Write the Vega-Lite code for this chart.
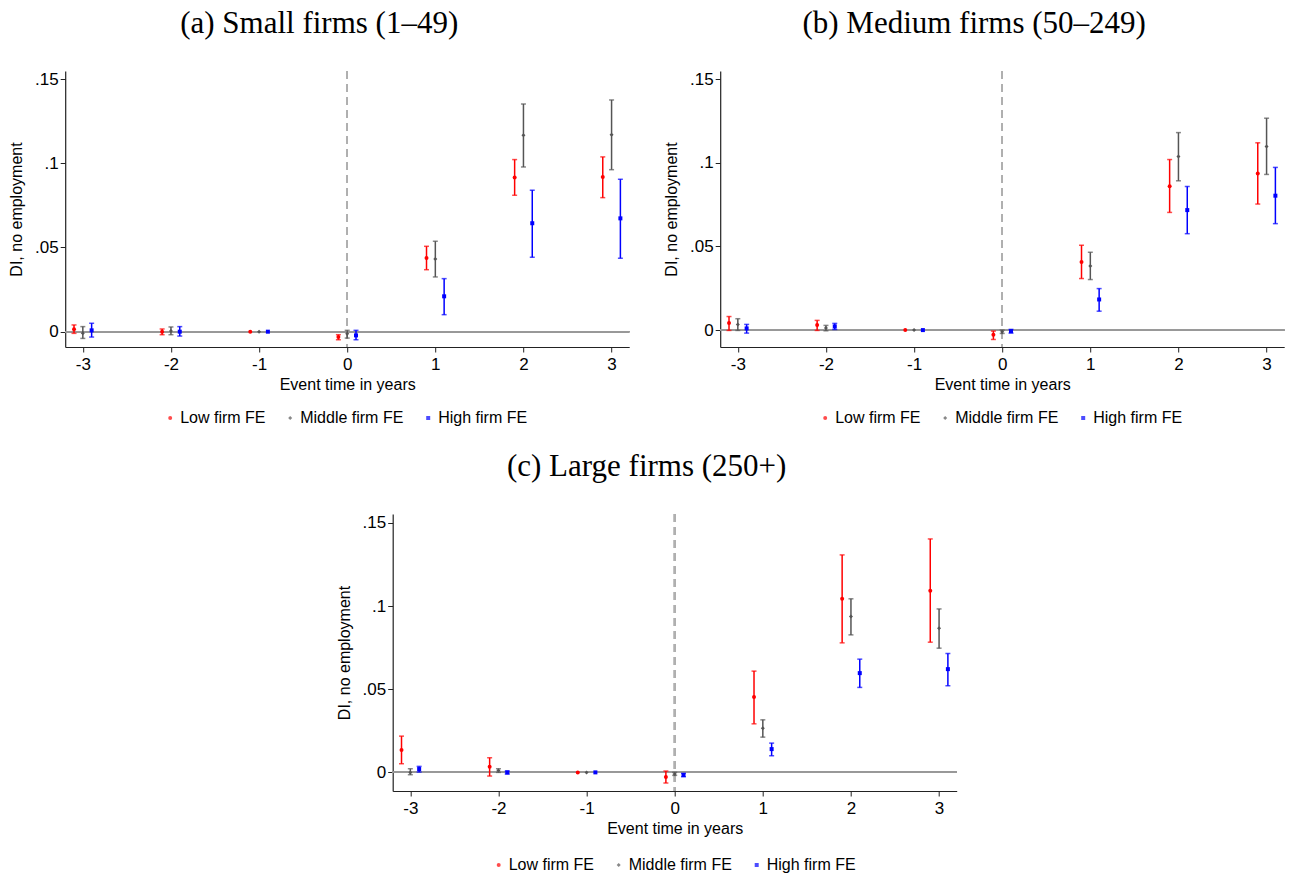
{
  "$schema": "https://vega.github.io/schema/vega-lite/v6.json",
  "padding": {"left": 8, "top": 8, "right": 0, "bottom": 0},
  "background": "white",
  "datasets": {
    "small": [
      {"x": -3.1, "group": "Low firm FE", "est": 0.0015, "lo": -0.001, "hi": 0.004},
      {"x": -3.0, "group": "Middle firm FE", "est": -0.001, "lo": -0.004, "hi": 0.003},
      {"x": -2.9, "group": "High firm FE", "est": 0.0008, "lo": -0.0032, "hi": 0.005},
      {"x": -2.1, "group": "Low firm FE", "est": 0.0, "lo": -0.0018, "hi": 0.0016},
      {"x": -2.0, "group": "Middle firm FE", "est": 0.0004, "lo": -0.0018, "hi": 0.0028},
      {"x": -1.9, "group": "High firm FE", "est": 0.0, "lo": -0.0026, "hi": 0.003},
      {"x": -1.1, "group": "Low firm FE", "est": 0.0, "lo": null, "hi": null},
      {"x": -1.0, "group": "Middle firm FE", "est": 0.0, "lo": null, "hi": null},
      {"x": -0.9, "group": "High firm FE", "est": 0.0, "lo": null, "hi": null},
      {"x": -0.1, "group": "Low firm FE", "est": -0.0032, "lo": -0.0048, "hi": -0.0018},
      {"x": 0.0, "group": "Middle firm FE", "est": -0.0012, "lo": -0.0038, "hi": 0.0008},
      {"x": 0.1, "group": "High firm FE", "est": -0.0022, "lo": -0.0048, "hi": 0.0008},
      {"x": 0.9, "group": "Low firm FE", "est": 0.0438, "lo": 0.0368, "hi": 0.0507},
      {"x": 1.0, "group": "Middle firm FE", "est": 0.0432, "lo": 0.0325, "hi": 0.0537},
      {"x": 1.1, "group": "High firm FE", "est": 0.021, "lo": 0.0101, "hi": 0.0315},
      {"x": 1.9, "group": "Low firm FE", "est": 0.0915, "lo": 0.081, "hi": 0.1022},
      {"x": 2.0, "group": "Middle firm FE", "est": 0.1166, "lo": 0.0978, "hi": 0.1352},
      {"x": 2.1, "group": "High firm FE", "est": 0.0644, "lo": 0.0442, "hi": 0.084},
      {"x": 2.9, "group": "Low firm FE", "est": 0.0919, "lo": 0.0796, "hi": 0.1038},
      {"x": 3.0, "group": "Middle firm FE", "est": 0.117, "lo": 0.0962, "hi": 0.1376},
      {"x": 3.1, "group": "High firm FE", "est": 0.0673, "lo": 0.0436, "hi": 0.0905}
    ],
    "medium": [
      {"x": -3.1, "group": "Low firm FE", "est": 0.0042, "lo": -0.0002, "hi": 0.0081},
      {"x": -3.0, "group": "Middle firm FE", "est": 0.0034, "lo": -0.0002, "hi": 0.0068},
      {"x": -2.9, "group": "High firm FE", "est": 0.001, "lo": -0.0018, "hi": 0.0034},
      {"x": -2.1, "group": "Low firm FE", "est": 0.003, "lo": -0.0002, "hi": 0.0058},
      {"x": -2.0, "group": "Middle firm FE", "est": 0.0012, "lo": -0.0004, "hi": 0.0028},
      {"x": -1.9, "group": "High firm FE", "est": 0.0022, "lo": 0.0004, "hi": 0.004},
      {"x": -1.1, "group": "Low firm FE", "est": 0.0, "lo": null, "hi": null},
      {"x": -1.0, "group": "Middle firm FE", "est": 0.0, "lo": null, "hi": null},
      {"x": -0.9, "group": "High firm FE", "est": 0.0, "lo": null, "hi": null},
      {"x": -0.1, "group": "Low firm FE", "est": -0.0028, "lo": -0.0056, "hi": -0.0006},
      {"x": 0.0, "group": "Middle firm FE", "est": -0.001, "lo": -0.002, "hi": 0.0},
      {"x": 0.1, "group": "High firm FE", "est": -0.0006, "lo": -0.0018, "hi": 0.0004},
      {"x": 0.9, "group": "Low firm FE", "est": 0.0407, "lo": 0.0308, "hi": 0.0507},
      {"x": 1.0, "group": "Middle firm FE", "est": 0.0383, "lo": 0.0302, "hi": 0.0465},
      {"x": 1.1, "group": "High firm FE", "est": 0.0183, "lo": 0.0113, "hi": 0.0248},
      {"x": 1.9, "group": "Low firm FE", "est": 0.086, "lo": 0.0703, "hi": 0.1019},
      {"x": 2.0, "group": "Middle firm FE", "est": 0.1037, "lo": 0.0892, "hi": 0.118},
      {"x": 2.1, "group": "High firm FE", "est": 0.0717, "lo": 0.0576, "hi": 0.0858},
      {"x": 2.9, "group": "Low firm FE", "est": 0.0936, "lo": 0.0753, "hi": 0.1119},
      {"x": 3.0, "group": "Middle firm FE", "est": 0.1097, "lo": 0.093, "hi": 0.1266},
      {"x": 3.1, "group": "High firm FE", "est": 0.0803, "lo": 0.0636, "hi": 0.0972}
    ],
    "large": [
      {"x": -3.1, "group": "Low firm FE", "est": 0.0134, "lo": 0.0052, "hi": 0.0218},
      {"x": -3.0, "group": "Middle firm FE", "est": 0.0, "lo": -0.0014, "hi": 0.0022},
      {"x": -2.9, "group": "High firm FE", "est": 0.002, "lo": 0.0002, "hi": 0.0036},
      {"x": -2.1, "group": "Low firm FE", "est": 0.0034, "lo": -0.0022, "hi": 0.0088},
      {"x": -2.0, "group": "Middle firm FE", "est": 0.0012, "lo": 0.0, "hi": 0.0022},
      {"x": -1.9, "group": "High firm FE", "est": 0.0, "lo": -0.001, "hi": 0.0008},
      {"x": -1.1, "group": "Low firm FE", "est": 0.0, "lo": null, "hi": null},
      {"x": -1.0, "group": "Middle firm FE", "est": 0.0, "lo": null, "hi": null},
      {"x": -0.9, "group": "High firm FE", "est": 0.0, "lo": null, "hi": null},
      {"x": -0.1, "group": "Low firm FE", "est": -0.0028, "lo": -0.0064, "hi": 0.0008},
      {"x": 0.0, "group": "Middle firm FE", "est": -0.001, "lo": -0.0018, "hi": 0.0},
      {"x": 0.1, "group": "High firm FE", "est": -0.0016, "lo": -0.0026, "hi": -0.0006},
      {"x": 0.9, "group": "Low firm FE", "est": 0.0453, "lo": 0.0292, "hi": 0.0609},
      {"x": 1.0, "group": "Middle firm FE", "est": 0.0266, "lo": 0.0212, "hi": 0.0316},
      {"x": 1.1, "group": "High firm FE", "est": 0.014, "lo": 0.01, "hi": 0.0176},
      {"x": 1.9, "group": "Low firm FE", "est": 0.1044, "lo": 0.0779, "hi": 0.1308},
      {"x": 2.0, "group": "Middle firm FE", "est": 0.0937, "lo": 0.0827, "hi": 0.1044},
      {"x": 2.1, "group": "High firm FE", "est": 0.0597, "lo": 0.0511, "hi": 0.0681},
      {"x": 2.9, "group": "Low firm FE", "est": 0.1092, "lo": 0.0783, "hi": 0.1404},
      {"x": 3.0, "group": "Middle firm FE", "est": 0.0867, "lo": 0.0747, "hi": 0.0983},
      {"x": 3.1, "group": "High firm FE", "est": 0.0621, "lo": 0.0521, "hi": 0.0715}
    ]
  },
  "config": {
    "view": {"stroke": null},
    "font": "Liberation Sans",
    "axis": {
      "labelFont": "Liberation Sans", "labelFontSize": 17, "labelColor": "#000",
      "titleFont": "Liberation Sans", "titleFontSize": 16, "titleFontWeight": "normal", "titleColor": "#000",
      "domainColor": "#222", "domainWidth": 1.2, "tickColor": "#222", "tickSize": 5, "tickWidth": 1,
      "gridColor": "#e8e8e8", "gridDash": [6, 5], "gridWidth": 1
    },
    "title": {"font": "Liberation Serif", "fontSize": 31, "fontWeight": "normal", "color": "#000", "offset": 30, "frame": "bounds", "anchor": "middle"},
    "legend": {
      "direction": "horizontal", "labelFont": "Liberation Sans", "labelFontSize": 16,
      "labelColor": "#000", "columnPadding": 16, "labelOffset": 2, "symbolStrokeWidth": 0
    }
  },
  "vconcat": [
    {
      "hconcat": [
        {
          "title": "(a) Small firms (1–49)",
          "width": 564, "height": 276,
          "data": {"name": "small"},
          "layer": [
            {"mark": {"type": "rule", "color": "#999", "strokeWidth": 1.2}, "encoding": {"y": {"datum": 0}}},
            {"mark": {"type": "rule", "color": "#b0b0b0", "strokeWidth": 1.5, "strokeDash": [8, 5]}, "encoding": {"x": {"datum": 0}}},
            {"mark": {"type": "rule", "strokeWidth": 1.5},
             "encoding": {"x": {"field": "x", "type": "quantitative"}, "y": {"field": "lo", "type": "quantitative"}, "y2": {"field": "hi"},
               "color": {"field": "group", "type": "nominal"}}},
            {"mark": {"type": "tick", "orient": "horizontal", "size": 5, "thickness": 1.5},
             "encoding": {"x": {"field": "x", "type": "quantitative"}, "y": {"field": "lo", "type": "quantitative"},
               "color": {"field": "group", "type": "nominal"}}},
            {"mark": {"type": "tick", "orient": "horizontal", "size": 5, "thickness": 1.5},
             "encoding": {"x": {"field": "x", "type": "quantitative"}, "y": {"field": "hi", "type": "quantitative"},
               "color": {"field": "group", "type": "nominal"}}},
            {"mark": {"type": "point", "filled": true, "opacity": 1},
             "encoding": {
               "x": {"field": "x", "type": "quantitative", "scale": {"domain": [-3.2, 3.2], "nice": false, "zero": false},
                 "axis": {"values": [-3, -2, -1, 0, 1, 2, 3], "title": "Event time in years", "labelPadding": 4, "titlePadding": 4, "labelExpr": "'' + datum.value"}},
               "y": {"field": "est", "type": "quantitative", "scale": {"domain": [-0.0091, 0.1548], "nice": false, "zero": false},
                 "axis": {"values": [0, 0.05, 0.1, 0.15], "title": "DI, no employment", "labelPadding": 2, "titlePadding": 10,
                   "labelExpr": "datum.value == 0 ? '0' : slice(format(datum.value, '.2~f'), 1)"}},
               "color": {"field": "group", "type": "nominal", "title": null,
                 "legend": {"orient": "none", "legendX": 97, "legendY": 339, "direction": "horizontal"},
                 "scale": {"domain": ["Low firm FE", "Middle firm FE", "High firm FE"], "range": ["#ff0000", "#555555", "#0000ff"]}},
               "shape": {"field": "group", "type": "nominal", "title": null,
                 "legend": {"orient": "none", "legendX": 97, "legendY": 339, "direction": "horizontal"},
                 "scale": {"domain": ["Low firm FE", "Middle firm FE", "High firm FE"], "range": ["circle", "diamond", "square"]}},
               "size": {"field": "group", "type": "nominal", "title": null,
                 "legend": {"orient": "none", "legendX": 97, "legendY": 339, "direction": "horizontal"},
                 "scale": {"domain": ["Low firm FE", "Middle firm FE", "High firm FE"], "range": [16, 16, 28]}}
             }}
          ]
        },
        {
          "title": "(b) Medium firms (50–249)",
          "width": 564, "height": 276,
          "data": {"name": "medium"},
          "layer": [
            {"mark": {"type": "rule", "color": "#999", "strokeWidth": 1.2}, "encoding": {"y": {"datum": 0}}},
            {"mark": {"type": "rule", "color": "#b0b0b0", "strokeWidth": 1.5, "strokeDash": [8, 5]}, "encoding": {"x": {"datum": 0}}},
            {"mark": {"type": "rule", "strokeWidth": 1.5},
             "encoding": {"x": {"field": "x", "type": "quantitative"}, "y": {"field": "lo", "type": "quantitative"}, "y2": {"field": "hi"},
               "color": {"field": "group", "type": "nominal"}}},
            {"mark": {"type": "tick", "orient": "horizontal", "size": 5, "thickness": 1.5},
             "encoding": {"x": {"field": "x", "type": "quantitative"}, "y": {"field": "lo", "type": "quantitative"},
               "color": {"field": "group", "type": "nominal"}}},
            {"mark": {"type": "tick", "orient": "horizontal", "size": 5, "thickness": 1.5},
             "encoding": {"x": {"field": "x", "type": "quantitative"}, "y": {"field": "hi", "type": "quantitative"},
               "color": {"field": "group", "type": "nominal"}}},
            {"mark": {"type": "point", "filled": true, "opacity": 1},
             "encoding": {
               "x": {"field": "x", "type": "quantitative", "scale": {"domain": [-3.2, 3.2], "nice": false, "zero": false},
                 "axis": {"values": [-3, -2, -1, 0, 1, 2, 3], "title": "Event time in years", "labelPadding": 4, "titlePadding": 4, "labelExpr": "'' + datum.value"}},
               "y": {"field": "est", "type": "quantitative", "scale": {"domain": [-0.0101, 0.1548], "nice": false, "zero": false},
                 "axis": {"values": [0, 0.05, 0.1, 0.15], "title": "DI, no employment", "labelPadding": 2, "titlePadding": 10,
                   "labelExpr": "datum.value == 0 ? '0' : slice(format(datum.value, '.2~f'), 1)"}},
               "color": {"field": "group", "type": "nominal", "title": null,
                 "legend": {"orient": "none", "legendX": 97, "legendY": 339, "direction": "horizontal"},
                 "scale": {"domain": ["Low firm FE", "Middle firm FE", "High firm FE"], "range": ["#ff0000", "#555555", "#0000ff"]}},
               "shape": {"field": "group", "type": "nominal", "title": null,
                 "legend": {"orient": "none", "legendX": 97, "legendY": 339, "direction": "horizontal"},
                 "scale": {"domain": ["Low firm FE", "Middle firm FE", "High firm FE"], "range": ["circle", "diamond", "square"]}},
               "size": {"field": "group", "type": "nominal", "title": null,
                 "legend": {"orient": "none", "legendX": 97, "legendY": 339, "direction": "horizontal"},
                 "scale": {"domain": ["Low firm FE", "Middle firm FE", "High firm FE"], "range": [16, 16, 28]}}
             }}
          ]
        }
      ],
      "spacing": 33,
      "resolve": {"scale": {"x": "independent", "y": "independent", "color": "independent", "shape": "independent", "size": "independent"},
                  "legend": {"color": "independent", "shape": "independent", "size": "independent"}}
    },
    {
      "title": "(c) Large firms (250+)",
      "width": 564, "height": 277,
      "data": {"name": "large"},
      "layer": [
        {"mark": {"type": "rule", "color": "#999", "strokeWidth": 1.2}, "encoding": {"y": {"datum": 0}}},
        {"mark": {"type": "rule", "color": "#b0b0b0", "strokeWidth": 1.5, "strokeDash": [8, 5]}, "encoding": {"x": {"datum": 0}}},
        {"mark": {"type": "rule", "strokeWidth": 1.5},
         "encoding": {"x": {"field": "x", "type": "quantitative"}, "y": {"field": "lo", "type": "quantitative"}, "y2": {"field": "hi"},
           "color": {"field": "group", "type": "nominal"}}},
        {"mark": {"type": "tick", "orient": "horizontal", "size": 5, "thickness": 1.5},
         "encoding": {"x": {"field": "x", "type": "quantitative"}, "y": {"field": "lo", "type": "quantitative"},
           "color": {"field": "group", "type": "nominal"}}},
        {"mark": {"type": "tick", "orient": "horizontal", "size": 5, "thickness": 1.5},
         "encoding": {"x": {"field": "x", "type": "quantitative"}, "y": {"field": "hi", "type": "quantitative"},
           "color": {"field": "group", "type": "nominal"}}},
        {"mark": {"type": "point", "filled": true, "opacity": 1},
         "encoding": {
           "x": {"field": "x", "type": "quantitative", "scale": {"domain": [-3.2, 3.2], "nice": false, "zero": false},
             "axis": {"values": [-3, -2, -1, 0, 1, 2, 3], "title": "Event time in years", "labelPadding": 4, "titlePadding": 4, "labelExpr": "'' + datum.value"}},
           "y": {"field": "est", "type": "quantitative", "scale": {"domain": [-0.0112, 0.1554], "nice": false, "zero": false},
             "axis": {"values": [0, 0.05, 0.1, 0.15], "title": "DI, no employment", "labelPadding": 2, "titlePadding": 10,
               "labelExpr": "datum.value == 0 ? '0' : slice(format(datum.value, '.2~f'), 1)"}},
           "color": {"field": "group", "type": "nominal", "title": null,
             "legend": {"orient": "none", "legendX": 98, "legendY": 343, "direction": "horizontal"},
             "scale": {"domain": ["Low firm FE", "Middle firm FE", "High firm FE"], "range": ["#ff0000", "#555555", "#0000ff"]}},
           "shape": {"field": "group", "type": "nominal", "title": null,
             "legend": {"orient": "none", "legendX": 98, "legendY": 343, "direction": "horizontal"},
             "scale": {"domain": ["Low firm FE", "Middle firm FE", "High firm FE"], "range": ["circle", "diamond", "square"]}},
           "size": {"field": "group", "type": "nominal", "title": null,
             "legend": {"orient": "none", "legendX": 98, "legendY": 343, "direction": "horizontal"},
             "scale": {"domain": ["Low firm FE", "Middle firm FE", "High firm FE"], "range": [16, 16, 28]}}
         }}
      ]
    }
  ],
  "spacing": 25,
  "center": true,
  "resolve": {"scale": {"x": "independent", "y": "independent", "color": "independent", "shape": "independent", "size": "independent"},
              "legend": {"color": "independent", "shape": "independent", "size": "independent"}}
}
